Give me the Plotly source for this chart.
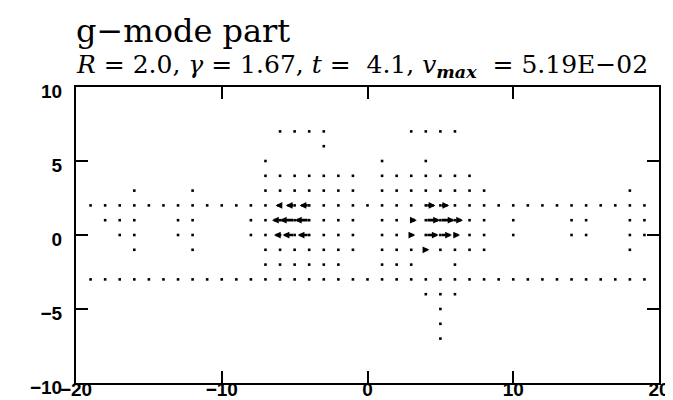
import plotly.graph_objects as go

# ---- data: grid points (x, y) and velocity (u, v) as fraction of v_max ----
ROW_7_X = [-6, -5, -4, -3, 3, 4, 5, 6]
ROW_6_X = [-3]
ROW_5_X = [-7, 1, 4]
ROW_4_X = [-7, -6, -5, -4, -3, -2, -1, 1, 2, 3, 4, 5, 6, 7]

ROW_3_X = [-16, -12, -7, -6, -5, -4, -3, -2, -1, 1, 2, 3, 4, 5, 6, 7, 8, 18]
ROW_3_U = [0, 0, 0, -0.14, 0, 0, 0, -0.1, 0, 0, 0, 0, 0.05, 0.05, 0, 0, 0, 0]
ROW_3_V = [0] * len(ROW_3_X)

ROW_2_X = [-19, -18, -17, -16, -15, -14, -13, -12, -11, -10, -9, -8, -7, -6, -5, -4, -3, -2, -1, 0,
           1, 2, 3, 4, 5, 6, 7, 8, 9, 10, 11, 12, 13, 14, 15, 16, 17, 18, 19]
ROW_2_U = [0, 0, 0, 0, 0, 0, 0, 0, 0, 0, 0, 0, -0.14, -0.28, -0.55, -0.6, -0.05, 0.14, 0, 0,
           0, 0, 0.15, 0.6, 0.55, 0.14, 0, 0, 0, 0, 0, 0, 0, 0, 0, 0, 0, 0, 0]
ROW_2_V = [0, 0, 0, 0, 0, 0, 0, 0, 0, 0, 0, 0, 0, 0, 0, 0, 0, 0, 0, 0,
           0, 0, 0, 0, 0, 0, 0.1, 0, 0, 0, 0, 0, 0, 0, 0, 0, 0, 0, 0]

ROW_1_X = [-18, -17, -16, -13, -12, -8, -7, -6, -5, -4, -3, -2, -1, 1, 2, 3, 4, 5, 6, 7, 8,
           10, 14, 15, 18, 19]
ROW_1_U = [0, 0, 0, 0, 0, 0, -0.12, -0.5, -0.92, -0.89, -0.12, 0, 0, 0, -0.14, 0.35, 0.88, 0.88, 0.5, 0.05, 0,
           0, 0, 0, 0, 0]
ROW_1_V = [0] * len(ROW_1_X)

ROW_0_X = [-17, -16, -13, -12, -8, -7, -6, -5, -4, -3, -2, -1, 1, 2, 3, 4, 5, 6, 7, 8,
           10, 14, 15, 18, 19]
ROW_0_U = [0, 0, 0, 0, 0, -0.15, -0.38, -0.75, -0.72, -0.1, 0, 0, 0, 0, 0.25, 0.8, 0.72, 0.32, 0, 0,
           0, 0, 0, 0, 0]
ROW_0_V = [0] * len(ROW_0_X)

ROW_M1_X = [-16, -12, -7, -6, -5, -4, -3, -2, -1, 1, 2, 3, 4, 5, 6, 7, 8, 18]
ROW_M1_U = [0, 0, 0, 0, -0.2, -0.15, 0.07, 0, 0, 0, 0, -0.04, 0.22, 0.1, 0, 0, 0, 0]
ROW_M1_V = [0, 0, 0, 0, 0, 0, -0.07, 0, 0, 0, 0, -0.09, 0, 0, 0, 0, 0, 0]

ROW_M2_X = [-7, -6, -5, -4, -3, -2, 1, 2, 3, 6]
ROW_M3_X = [-19, -18, -17, -16, -15, -14, -13, -12, -11, -10, -9, -8, -7, -6, -5, -4, -3, -2, -1, 0,
            1, 2, 3, 4, 5, 6, 7, 8, 9, 10, 11, 12, 13, 14, 15, 16, 17, 18, 19]
ROW_M4_X = [4, 5, 6]
ROW_M5_X = [5]
ROW_M6_X = [5]
ROW_M7_X = [5]

X_TICKS = [-20, -10, 0, 10, 20]
Y_TICKS = [-10, -5, 0, 5, 10]
TITLE = "g\u2212mode part"
NB = "\u00a0"
SUBTITLE = ("<i>R</i> = 2.0, <i>\u03b3</i> = 1.67, <i>t</i> =" + NB + " 4.1, "
            + "<i>v</i><sub><b><i>max</i></b></sub>" + NB + " = 5.19E\u221202")

# ---- assemble ----
rows = [
    (7, ROW_7_X, None, None), (6, ROW_6_X, None, None), (5, ROW_5_X, None, None),
    (4, ROW_4_X, None, None), (3, ROW_3_X, ROW_3_U, ROW_3_V), (2, ROW_2_X, ROW_2_U, ROW_2_V),
    (1, ROW_1_X, ROW_1_U, ROW_1_V), (0, ROW_0_X, ROW_0_U, ROW_0_V),
    (-1, ROW_M1_X, ROW_M1_U, ROW_M1_V), (-2, ROW_M2_X, None, None), (-3, ROW_M3_X, None, None),
    (-4, ROW_M4_X, None, None), (-5, ROW_M5_X, None, None), (-6, ROW_M6_X, None, None),
    (-7, ROW_M7_X, None, None),
]
X, Y, U, V = [], [], [], []
for yy, xs, us, vs in rows:
    for i, xx in enumerate(xs):
        X.append(xx)
        Y.append(yy)
        U.append(us[i] if us else 0.0)
        V.append(vs[i] if vs else 0.0)

ARROW_SCALE = 1.1  # grid units per v_max

fig = go.Figure()
fig.add_trace(go.Scatter(x=X, y=Y, mode="markers",
                         marker=dict(symbol="square", size=2.6, color="black", line=dict(width=0)),
                         hoverinfo="skip", showlegend=False))

annotations = []
for xx, yy, uu, vv in zip(X, Y, U, V):
    if abs(uu) + abs(vv) < 1e-9:
        continue
    annotations.append(dict(
        x=xx + uu * ARROW_SCALE, y=yy + vv * ARROW_SCALE, ax=xx, ay=yy,
        xref="x", yref="y", axref="x", ayref="y",
        text="", showarrow=True, arrowhead=2, arrowsize=0.5, arrowwidth=2.7,
        arrowcolor="black", standoff=0, startstandoff=0))

annotations.append(dict(
    text=TITLE, xref="paper", yref="paper", x=-0.004, y=1.1892,
    xanchor="left", yanchor="middle", showarrow=False,
    font=dict(family="DejaVu Serif", size=32, color="black")))
annotations.append(dict(
    text=SUBTITLE, xref="paper", yref="paper", x=-0.004, y=1.0709,
    xanchor="left", yanchor="middle", showarrow=False,
    font=dict(family="DejaVu Serif", size=25, color="black")))

axis_common = dict(showgrid=False, zeroline=False, showline=True, linecolor="black",
                   linewidth=2, mirror="ticks", ticks="inside", ticklen=12, tickwidth=2,
                   tickcolor="black", automargin=False)

fig.update_layout(
    width=673, height=400,
    margin=dict(l=68, r=22, t=79, b=25, autoexpand=False),
    paper_bgcolor="white", plot_bgcolor="white",
    showlegend=False,
    annotations=annotations,
    xaxis=dict(range=[-20, 20], tickvals=X_TICKS, ticklabelstandoff=-12,
               tickfont=dict(family="Liberation Sans", size=19, color="black", weight="bold"),
               **axis_common),
    yaxis=dict(range=[-10, 10], tickvals=Y_TICKS, ticklabelstandoff=8, ticklabelshift=4,
               tickfont=dict(family="Liberation Sans", size=19, color="black", weight="bold"),
               **axis_common),
)
fig.write_html("out.html")
